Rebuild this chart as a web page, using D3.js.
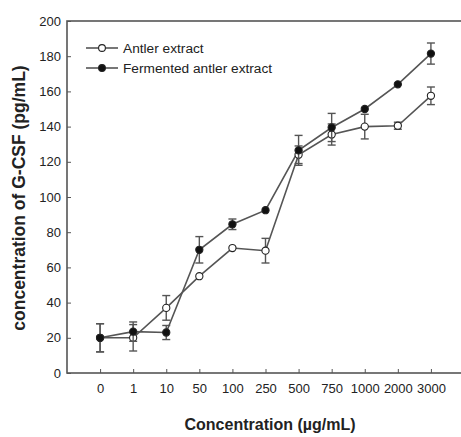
<!DOCTYPE html>
<html><head><meta charset="utf-8">
<script src="https://cdn.jsdelivr.net/npm/d3@7"></script>
<style>body{margin:0;background:#fff;} svg{display:block;font-family:"Liberation Sans",Arial,sans-serif;}</style>
</head><body>
<svg id="c" width="461" height="437"></svg>
<script>
const categories = ["0","1","10","50","100","250","500","750","1000","2000","3000"];
const antler = [20, 20, 37, 55, 71, 69.5, 124, 135.5, 140, 140.5, 157.5];
const antlerErr = [8, 7.5, 7, 1, 1, 7, 5, 6, 7, 2, 5];
const fermented = [20, 23.5, 23, 70, 84.5, 92.5, 126.5, 139.5, 150, 164, 181.5];
const fermentedErr = [8, 5.5, 4, 7.5, 3, 1, 8.5, 8, 1, 1, 6];
const yTicks = [0,20,40,60,80,100,120,140,160,180,200];
const series = [
  {name:"Antler extract", values: antler, err: antlerErr, fill:"#fff"},
  {name:"Fermented antler extract", values: fermented, err: fermentedErr, fill:"#111"}
];

const svg = d3.select("#c");
const x = d3.scaleLinear().domain([-1, 11]).range([67, 464]);
const y = d3.scaleLinear().domain([0, 200]).range([373, 21]);
const lineCol = "#555";

// frame
svg.append("rect").attr("x", x(-1)).attr("y", y(200)).attr("width", x(11)-x(-1)).attr("height", y(0)-y(200))
  .attr("fill","none").attr("stroke","#555").attr("stroke-width",1.6);

// y axis
const yAxis = svg.append("g").attr("transform",`translate(${x(-1)},0)`)
  .call(d3.axisLeft(y).tickValues(yTicks).tickSizeInner(-4).tickSizeOuter(0).tickPadding(6));
yAxis.select(".domain").remove();
yAxis.selectAll("line").attr("stroke","#555");
yAxis.selectAll("text").attr("font-size","13px").attr("fill","#222").attr("font-family","Liberation Sans, Arial, sans-serif");

// x axis
const xAxis = svg.append("g").attr("transform",`translate(0,${y(0)})`)
  .call(d3.axisBottom(x).tickValues(d3.range(categories.length)).tickFormat(i => categories[i]).tickSizeInner(-4).tickSizeOuter(0).tickPadding(11));
xAxis.select(".domain").remove();
xAxis.selectAll("line").attr("stroke","#555");
xAxis.selectAll("text").attr("font-size","13px").attr("fill","#222").attr("font-family","Liberation Sans, Arial, sans-serif");

// labels
svg.append("text").attr("x", 270).attr("y", 430).attr("text-anchor","middle")
  .attr("font-size","16px").attr("font-weight","bold").attr("fill","#222").text("Concentration (µg/mL)");
svg.append("text").attr("transform","translate(25,198) rotate(-90)").attr("text-anchor","middle")
  .attr("font-size","17.5px").attr("font-weight","bold").attr("fill","#222").text("concentration of G-CSF (pg/mL)");

const line = d3.line().x((d,i)=>x(i)).y(d=>y(d));
series.forEach(s => {
  svg.append("path").attr("d", line(s.values)).attr("fill","none").attr("stroke",lineCol).attr("stroke-width",1.6);
});
series.forEach(s => {
  const g = svg.append("g");
  s.values.forEach((v,i) => {
    const e = s.err[i];
    if (e > 1.5) {
      g.append("line").attr("x1",x(i)).attr("x2",x(i)).attr("y1",y(v-e)).attr("y2",y(v+e)).attr("stroke",lineCol).attr("stroke-width",1.4);
      [v-e, v+e].forEach(t => g.append("line").attr("x1",x(i)-4).attr("x2",x(i)+4).attr("y1",y(t)).attr("y2",y(t)).attr("stroke",lineCol).attr("stroke-width",1.4));
    }
    g.append("circle").attr("cx",x(i)).attr("cy",y(v)).attr("r",3.6).attr("fill",s.fill).attr("stroke","#222").attr("stroke-width",1.1);
  });
});

// legend
series.forEach((s,k) => {
  const ly = 48 + k*20;
  svg.append("line").attr("x1",86).attr("x2",118).attr("y1",ly).attr("y2",ly).attr("stroke",lineCol).attr("stroke-width",1.6);
  svg.append("circle").attr("cx",102).attr("cy",ly).attr("r",3.4).attr("fill",s.fill).attr("stroke","#222").attr("stroke-width",1.1);
  svg.append("text").attr("x",123).attr("y",ly+5).attr("font-size","13.7px").attr("fill","#222").text(s.name);
});
</script>
</body></html>
